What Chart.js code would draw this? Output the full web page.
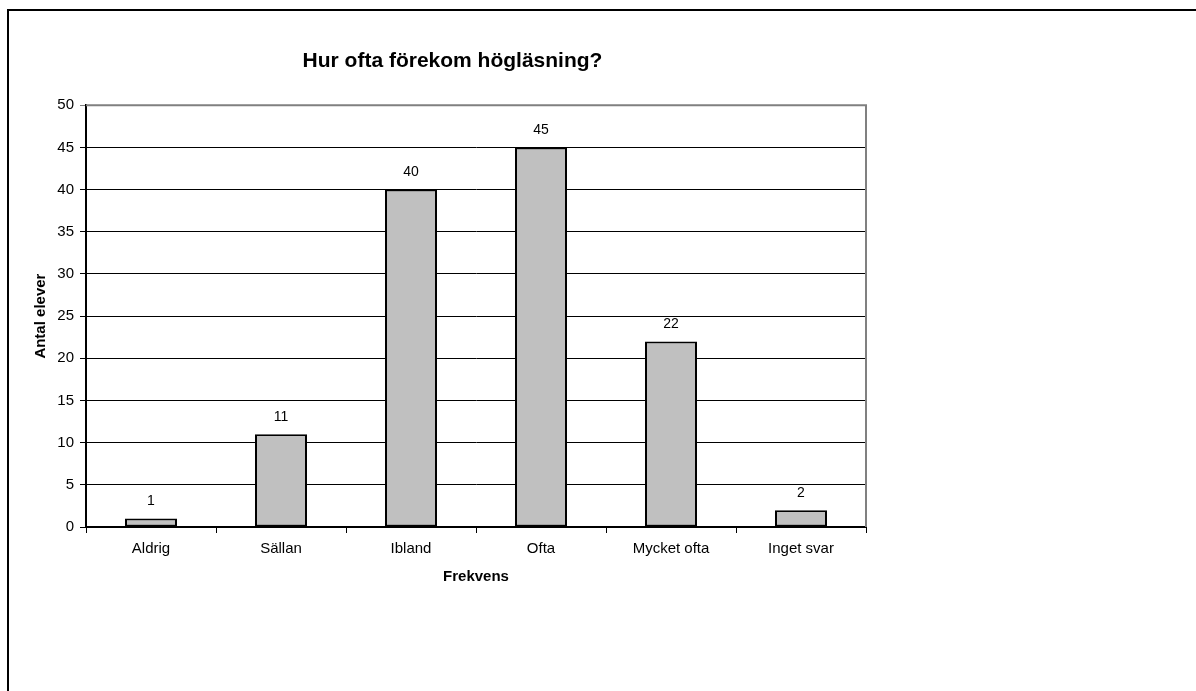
<!DOCTYPE html>
<html>
<head>
<meta charset="utf-8">
<title>Hur ofta förekom högläsning?</title>
<script src="https://cdn.jsdelivr.net/npm/chart.js@4/dist/chart.umd.min.js"></script>
<style>
  html, body { margin: 0; padding: 0; background: #fff; overflow: hidden; }
  #frame {
    position: absolute; left: 7px; top: 9px;
    width: 1300px; height: 800px;
    border: 2px solid #000; box-sizing: border-box;
  }
  #wrap { position: absolute; left: 0; top: 0; width: 1196px; height: 691px; }
</style>
</head>
<body>
<div id="frame"></div>
<div id="wrap"><canvas id="chart"></canvas></div>
<script>
// survey answers
const categories = ['Aldrig', 'Sällan', 'Ibland', 'Ofta', 'Mycket ofta', 'Inget svar'];
const antalElever = [1, 11, 40, 45, 22, 2];
const yTicks = [0, 5, 10, 15, 20, 25, 30, 35, 40, 45, 50];

const FONT = "'Liberation Sans', Arial, sans-serif";
Chart.defaults.font.family = FONT;
Chart.defaults.color = '#000';

// value on top of each bar
const valueLabels = {
  id: 'valueLabels',
  afterDatasetsDraw(chart) {
    const ctx = chart.ctx;
    const meta = chart.getDatasetMeta(0);
    ctx.save();
    ctx.font = '14px ' + FONT;
    ctx.fillStyle = '#000';
    ctx.textAlign = 'center';
    ctx.textBaseline = 'middle';
    meta.data.forEach((bar, i) => {
      ctx.fillText(String(antalElever[i]), bar.x, bar.y - 17);
    });
    ctx.restore();
  }
};

// grey plot frame on top and right side
const plotFrame = {
  id: 'plotFrame',
  beforeDatasetsDraw(chart) {
    const { ctx, chartArea: a } = chart;
    ctx.save();
    ctx.strokeStyle = '#808080';
    ctx.lineWidth = 2;
    ctx.beginPath();
    ctx.moveTo(a.left, a.top);
    ctx.lineTo(a.right, a.top);
    ctx.lineTo(a.right, a.bottom);
    ctx.stroke();
    ctx.restore();
  }
};

new Chart(document.getElementById('chart'), {
  type: 'bar',
  data: {
    labels: categories,
    datasets: [{
      data: antalElever,
      backgroundColor: '#c0c0c0',
      borderColor: '#000',
      borderWidth: 2,
      borderSkipped: false,
      categoryPercentage: 1,
      barPercentage: 0.4
    }]
  },
  options: {
    responsive: true,
    maintainAspectRatio: false,
    animation: false,
    layout: { padding: { left: 39, right: 330, top: 0, bottom: 96 } },
    plugins: {
      legend: { display: false },
      tooltip: { enabled: false },
      title: {
        display: true,
        text: 'Hur ofta förekom högläsning?',
        font: { size: 21, weight: 'bold' },
        color: '#000',
        padding: { top: 49, bottom: 31 }
      }
    },
    scales: {
      x: {
        offset: true,
        afterFit(scale) { scale.height = 68; },
        grid: {
          offset: true,
          drawOnChartArea: false,
          tickLength: 6,
          color: '#000',
          lineWidth: 1
        },
        border: { color: '#000', width: 2 },
        ticks: { font: { size: 15 }, color: '#000', padding: 7 },
        title: {
          display: true,
          text: 'Frekvens',
          font: { size: 15, weight: 'bold' },
          color: '#000',
          padding: { top: 0, bottom: 9 }
        }
      },
      y: {
        min: 0,
        max: 50,
        afterFit(scale) { scale.width = 47; },
        afterBuildTicks(scale) { scale.ticks = yTicks.map(v => ({ value: v })); },
        grid: {
          color: ctx => (ctx.tick && ctx.tick.value === 50 ? '#808080' : '#000'),
          lineWidth: 1,
          tickLength: 6
        },
        border: { color: '#000', width: 2 },
        ticks: { font: { size: 15 }, color: '#000', padding: 6 },
        title: {
          display: true,
          text: 'Antal elever',
          font: { size: 15, weight: 'bold' },
          color: '#000',
          padding: { top: -7, bottom: 0 }
        }
      }
    }
  },
  plugins: [plotFrame, valueLabels]
});
</script>
</body>
</html>
